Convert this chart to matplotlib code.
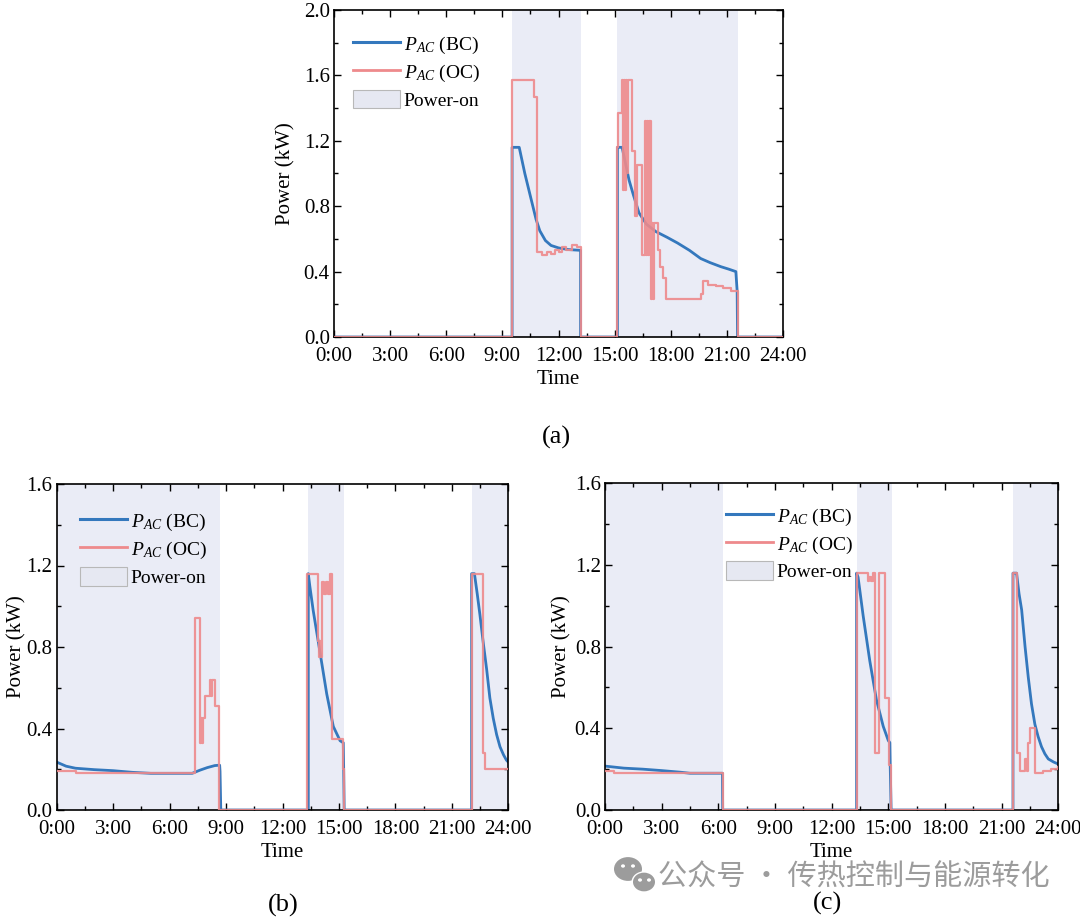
import matplotlib
matplotlib.use("Agg")
import matplotlib.pyplot as plt
from matplotlib.patches import Patch, Ellipse
from matplotlib.lines import Line2D
from matplotlib.ticker import MultipleLocator, FixedLocator, FuncFormatter

plt.rcParams['font.family'] = ['Liberation Serif', 'DejaVu Serif']
plt.rcParams['mathtext.fontset'] = 'custom'
plt.rcParams['mathtext.it'] = 'Liberation Serif:italic'
plt.rcParams['mathtext.rm'] = 'Liberation Serif'

# ---------------- data (hours, kW) ----------------
xticks_h = [0, 3, 6, 9, 12, 15, 18, 21, 24]
xtick_labels = ["0:00", "3:00", "6:00", "9:00", "12:00", "15:00", "18:00", "21:00", "24:00"]

# Panel (a)
a_on = [(9.52, 13.18), (15.15, 21.57)]
a_bc_t = [0, 9.52, 9.52, 9.9, 10.2, 10.5, 10.8, 11.0, 11.3, 11.6, 12.0, 12.5, 13.18, 13.18,
          15.15, 15.15, 15.4, 15.77, 16.0, 16.3, 16.7, 17.2, 17.8, 18.36, 19.0, 19.6, 20.1,
          20.68, 21.1, 21.48, 21.55, 21.57, 24]
a_bc_v = [0, 0, 1.16, 1.16, 1.0, 0.86, 0.72, 0.65, 0.59, 0.56, 0.545, 0.535, 0.53, 0,
          0, 1.16, 1.16, 0.96, 0.87, 0.76, 0.69, 0.645, 0.61, 0.575, 0.53, 0.48, 0.455,
          0.43, 0.415, 0.40, 0.28, 0, 0]
a_oc_t = [0, 9.52, 10.68, 10.85, 11.1, 11.4, 11.6, 11.8, 12.0, 12.2, 12.4, 12.7, 13.0, 13.18,
          15.15, 15.2, 15.38, 15.45, 15.5, 15.56, 15.6, 15.65, 15.7, 15.95, 16.1, 16.2,
          16.48, 16.6, 16.68, 16.74, 16.8, 16.86, 16.93, 16.99, 17.05, 17.1, 17.3, 17.45,
          17.6, 17.73, 19.6, 19.75, 20.0, 20.4, 20.8, 21.2, 21.57, 24]
a_oc_v = [0, 1.57, 1.47, 0.52, 0.50, 0.52, 0.51, 0.53, 0.52, 0.55, 0.53, 0.56, 0.55, 0,
          1.16, 1.37, 1.57, 0.90, 1.57, 0.90, 1.57, 1.0, 1.57, 1.14, 0.74, 1.05,
          0.50, 1.32, 0.50, 1.32, 0.50, 1.32, 0.23, 0.70, 0.23, 0.70, 0.53, 0.43,
          0.36, 0.23, 0.26, 0.34, 0.32, 0.31, 0.30, 0.28, 0, 0]

# Panel (b)
b_on = [(0, 8.68), (13.37, 15.28), (22.05, 24)]
b_bc_t = [0, 0.5, 1.0, 2.0, 3.0, 4.0, 5.0, 7.2, 7.6, 8.0, 8.4, 8.66, 8.68, 8.72,
          13.37, 13.37, 13.45, 13.63, 14.0, 14.35, 14.7, 15.06, 15.23, 15.25, 15.28,
          22.05, 22.05, 22.2, 22.35, 22.49, 22.67, 22.85, 23.02, 23.2, 23.38, 23.56, 23.75, 23.9, 24]
b_bc_v = [0.235, 0.215, 0.205, 0.198, 0.193, 0.185, 0.18, 0.18, 0.195, 0.208, 0.218, 0.22, 0.19, 0,
          0, 1.16, 1.10, 0.98, 0.77, 0.57, 0.41, 0.34, 0.33, 0.21, 0,
          0, 1.16, 1.16, 1.06, 0.96, 0.82, 0.69, 0.55, 0.45, 0.37, 0.31, 0.27, 0.245, 0.235]
b_oc_t = [0, 1.0, 7.35, 7.62, 7.68, 7.72, 7.79, 7.9, 8.15, 8.2, 8.25, 8.41, 8.64,
          13.32, 13.9, 13.95, 14.0, 14.05, 14.1, 14.2, 14.3, 14.4, 14.5, 14.64, 15.23, 15.28,
          22.05, 22.63, 22.75, 24]
b_oc_v = [0.19, 0.18, 0.94, 0.33, 0.45, 0.33, 0.45, 0.56, 0.64, 0.56, 0.64, 0.51, 0,
          1.16, 0.83, 0.75, 0.83, 0.75, 1.12, 1.06, 1.12, 1.06, 1.16, 0.35, 0.20, 0,
          1.16, 0.28, 0.20, 0.20]

# Panel (c)
c_on = [(0, 6.23), (13.32, 15.18), (21.58, 24)]
c_bc_t = [0, 1.0, 2.0, 3.0, 4.0, 4.5, 6.22, 6.23,
          13.32, 13.32, 13.4, 13.67, 14.02, 14.37, 14.73, 15.0, 15.08, 15.1, 15.15,
          21.6, 21.6, 21.79, 21.92, 22.06, 22.24, 22.41, 22.58, 22.76, 22.93, 23.11, 23.29,
          23.47, 23.75, 24]
c_bc_v = [0.215, 0.205, 0.2, 0.193, 0.185, 0.18, 0.18, 0,
          0, 1.16, 1.14, 0.95, 0.73, 0.54, 0.41, 0.34, 0.33, 0.22, 0,
          0, 1.16, 1.16, 1.06, 0.98, 0.80, 0.65, 0.52, 0.42, 0.36, 0.31, 0.275,
          0.25, 0.235, 0.225]
c_oc_t = [0, 0.5, 6.23, 13.32, 13.94, 14.0, 14.1, 14.2, 14.27, 14.52, 14.82, 15.05, 15.12,
          21.62, 21.83, 21.97, 22.23, 22.32, 22.41, 22.5, 22.76, 23.2, 23.6, 24]
c_oc_v = [0.19, 0.18, 0, 1.16, 1.12, 1.14, 1.12, 1.16, 0.28, 1.16, 0.55, 0.22, 0,
          1.16, 0.28, 0.19, 0.25, 0.19, 0.33, 0.40, 0.18, 0.19, 0.20, 0.21]

# ---------------- style ----------------
BLUE = '#3478bd'
PINK = '#ee8a8c'
SHADE = '#eaecf6'
FS = 15
LFS = 14

fig = plt.figure(figsize=(10.8, 9.21), dpi=100)

def make_panel(rect, ymax, on, bc_t, bc_v, oc_t, oc_v, leg_anchor, ylab_x):
    ax = fig.add_axes(rect)
    for s, e in on:
        ax.axvspan(s, e, color=SHADE, lw=0, zorder=0)
    ax.plot(bc_t, bc_v, color=BLUE, lw=2.0, zorder=2)
    ax.step(oc_t, oc_v, where='post', color=PINK, lw=1.6, zorder=3, alpha=0.9)
    ax.set_xlim(0, 24)
    ax.set_ylim(0, ymax)
    ax.xaxis.set_major_locator(FixedLocator(xticks_h))
    ax.set_xticklabels(xtick_labels)
    ax.xaxis.set_minor_locator(MultipleLocator(1.5))
    ax.yaxis.set_major_locator(MultipleLocator(0.4))
    ax.yaxis.set_minor_locator(MultipleLocator(0.2))
    ax.yaxis.set_major_formatter(FuncFormatter(lambda v, p: f"{v:.1f}"))
    ax.tick_params(which='both', direction='in', top=True, right=True, labelsize=FS,
                   width=1.0)
    ax.tick_params(axis='x', which='major', pad=7)
    ax.tick_params(axis='y', which='major', pad=3)
    ax.tick_params(which='major', length=5)
    ax.tick_params(which='minor', length=3)
    for sp in ax.spines.values():
        sp.set_linewidth(1.2)
    ax.set_xlabel('Time', fontsize=FS, labelpad=3)
    ax.set_ylabel('Power (kW)', fontsize=FS)
    ax.yaxis.set_label_coords(ylab_x, 0.5)
    handles = [Line2D([], [], color=BLUE, lw=2.2),
               Line2D([], [], color=PINK, lw=2.0),
               Patch(facecolor='#e6e8f2', edgecolor='#b8b8b8', lw=0.8)]
    labels = [r'$P_{AC}$ (BC)', r'$P_{AC}$ (OC)', 'Power-on']
    ax.legend(handles, labels, loc='upper left', bbox_to_anchor=leg_anchor,
              frameon=False, fontsize=LFS, handlelength=2.4, handleheight=1.1,
              handletextpad=0.2, labelspacing=0.3, borderaxespad=0)
    return ax

make_panel([334/1080, 1-337/921, 449/1080, 327/921], 2.0, a_on,
           a_bc_t, a_bc_v, a_oc_t, a_oc_v, (0.025, 0.95), -0.085)
make_panel([56.7/1080, 1-810/921, 451.6/1080, 326/921], 1.6, b_on,
           b_bc_t, b_bc_v, b_oc_t, b_oc_v, (0.035, 0.94), -0.068)
make_panel([605/1080, 1-810/921, 453.3/1080, 326.7/921], 1.6, c_on,
           c_bc_t, c_bc_v, c_oc_t, c_oc_v, (0.25, 0.955), -0.075)

fig.text(556/1080, 1-437/921, '(a)', fontsize=19, ha='center', va='center')
fig.text(283/1080, 1-905/921, '(b)', fontsize=19, ha='center', va='center')
fig.text(828/1080, 1-903/921, '(c)', fontsize=19, ha='center', va='center')

# watermark
GRAY = '#9c9c9c'
def bubble(cx, cy, r, col, z=10):
    fig.add_artist(Ellipse((cx/1080, 1-cy/921), 2*r/1080, 2*r*0.85/921,
                           transform=fig.transFigure, facecolor=col, edgecolor='none', zorder=z))
bubble(628, 869, 14, GRAY)
bubble(644, 882, 12.5, '#ffffff', 11)
bubble(644, 882, 11, GRAY, 12)
for (x, y, z) in [(623, 866, 11), (633, 866, 11), (640, 880, 13), (649, 880, 13)]:
    bubble(x, y, 2.0, '#ffffff', z)
fig.text(658/1080, 1-878/921, '公众号 · 传热控制与能源转化', fontsize=21, color=GRAY,
         family=['Noto Sans CJK SC', 'DejaVu Sans'], ha='left', va='center', zorder=20)

fig.savefig('out.png', dpi=100)
